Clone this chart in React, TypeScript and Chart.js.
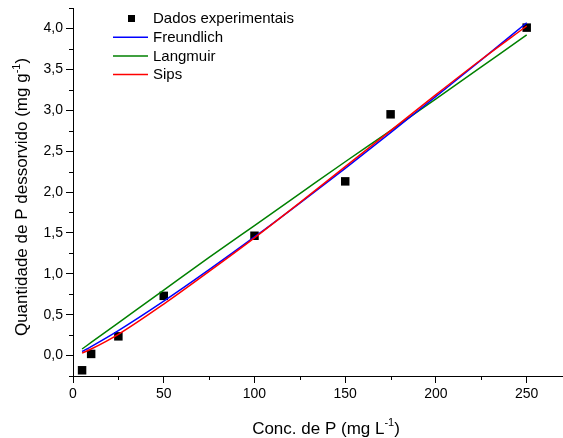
import React, { useEffect, useRef } from "react";
import { Chart, registerables } from "chart.js";
Chart.register(...registerables);

// Experimental data
const expC = [5, 10, 25, 50, 100, 150, 175, 250];
const expQ = [-0.18, 0.02, 0.235, 0.73, 1.465, 2.13, 2.95, 4.01];

// Fitted model curves
const curveC = [5, 10, 25, 50, 75, 100, 125, 150, 175, 200, 225, 250];
const freundlichQ = [0.05, 0.11, 0.305, 0.665, 1.05, 1.45, 1.865, 2.29, 2.725, 3.17, 3.615, 4.07];
const langmuirQ = [0.08, 0.16, 0.4, 0.8, 1.2, 1.59, 1.98, 2.37, 2.75, 3.14, 3.53, 3.92];
const sipsQ = [0.03, 0.08, 0.26, 0.63, 1.03, 1.44, 1.87, 2.31, 2.75, 3.19, 3.62, 4.03];

const seriesLabels = ["Dados experimentais", "Freundlich", "Langmuir", "Sips"];

// Axis titles: [main text, superscript, closing]
const xTitleParts = ["Conc. de P (mg L", "-1", ")"];
const yTitleParts = ["Quantidade de P dessorvido (mg g", "-1", ")"];

// Axis ticks
const xTicks = [0, 50, 100, 150, 200, 250];
const xMinorTicks = [25, 75, 125, 175, 225];
const yTicks = [0, 0.5, 1, 1.5, 2, 2.5, 3, 3.5, 4];
const yMinorTicks = [-0.25, 0.25, 0.75, 1.25, 1.75, 2.25, 2.75, 3.25, 3.75, 4.25];

const FONT = "'Liberation Sans', Arial, sans-serif";

function drawSupText(ctx: CanvasRenderingContext2D, parts: string[], size: number) {
  const main = `${size}px ${FONT}`;
  const sup = `${Math.round(size * 0.62)}px ${FONT}`;
  ctx.font = main;
  const w0 = ctx.measureText(parts[0]).width;
  const w2 = ctx.measureText(parts[2]).width;
  ctx.font = sup;
  const w1 = ctx.measureText(parts[1]).width;
  const total = w0 + w1 + w2;
  let x = -total / 2;
  ctx.textAlign = "left";
  ctx.textBaseline = "alphabetic";
  ctx.font = main;
  ctx.fillText(parts[0], x, 0);
  x += w0;
  ctx.font = sup;
  ctx.fillText(parts[1], x, -size * 0.42);
  x += w1;
  ctx.font = main;
  ctx.fillText(parts[2], x, 0);
}

const decorPlugin = {
  id: "decor",
  afterLayout(chart: any) {
    // let the plot area run to the right edge of the canvas, as in the original
    const xs = chart.scales.x;
    const target = chart.width;
    if (chart.chartArea.right !== target) {
      chart.chartArea.right = target;
      chart.chartArea.width = target - chart.chartArea.left;
      xs.right = target;
      xs.width = target - xs.left;
      xs.configure();
    }
  },
  afterDraw(chart: any) {
    const ctx = chart.ctx as CanvasRenderingContext2D;
    const xs = chart.scales.x;
    const ys = chart.scales.y;
    const area = chart.chartArea;
    ctx.save();
    ctx.strokeStyle = "#000";
    ctx.lineWidth = 1;
    ctx.beginPath();
    for (const v of xMinorTicks) {
      const px = Math.round(xs.getPixelForValue(v)) + 0.5;
      ctx.moveTo(px, area.bottom);
      ctx.lineTo(px, area.bottom + 4);
    }
    for (const v of yMinorTicks) {
      const py = Math.round(ys.getPixelForValue(v)) + 0.5;
      ctx.moveTo(area.left, py);
      ctx.lineTo(area.left - 4, py);
    }
    ctx.stroke();

    ctx.fillStyle = "#000";
    ctx.save();
    ctx.translate(area.left + 253, 433.5);
    drawSupText(ctx, xTitleParts, 17);
    ctx.restore();
    ctx.save();
    ctx.translate(27, area.top + 189);
    ctx.rotate(-Math.PI / 2);
    drawSupText(ctx, yTitleParts, 17);
    ctx.restore();

    const ds = chart.data.datasets;
    const baseX = area.left;
    const baseY = area.top;
    const rowH = 18.7;
    ctx.font = `15px ${FONT}`;
    ctx.textBaseline = "middle";
    ctx.textAlign = "left";
    ds.forEach((d: any, i: number) => {
      const cy = baseY + 10.5 + i * rowH;
      if (i === 0) {
        ctx.fillStyle = "#000";
        ctx.fillRect(baseX + 55, cy - 3.5, 7, 7);
      } else {
        ctx.strokeStyle = d.borderColor;
        ctx.lineWidth = 1.5;
        ctx.beginPath();
        ctx.moveTo(baseX + 40, cy);
        ctx.lineTo(baseX + 75, cy);
        ctx.stroke();
      }
      ctx.fillStyle = "#000";
      ctx.fillText(d.label, baseX + 80, cy + 0.5);
    });
    ctx.restore();
  },
};

export default function App() {
  const ref = useRef<HTMLCanvasElement>(null);
  useEffect(() => {
    if (!ref.current) return;
    const toXY = (xs: number[], ys: number[]) => xs.map((x, i) => ({ x, y: ys[i] }));
    const lineDs = (label: string, data: number[], color: string, order: number) => ({
      type: "line" as const,
      label,
      data: toXY(curveC, data),
      borderColor: color,
      backgroundColor: color,
      borderWidth: 1.5,
      pointRadius: 0,
      showLine: true,
      fill: false,
      cubicInterpolationMode: "monotone" as const,
      order,
    });
    const chart = new Chart(ref.current, {
      type: "scatter",
      data: {
        datasets: [
          {
            label: seriesLabels[0],
            data: toXY(expC, expQ),
            pointStyle: "rect",
            pointRadius: 6,
            pointBackgroundColor: "#000",
            pointBorderWidth: 0,
            backgroundColor: "#000",
            borderColor: "#000",
            showLine: false,
            order: 4,
          } as any,
          lineDs(seriesLabels[1], freundlichQ, "#0000ff", 2),
          lineDs(seriesLabels[2], langmuirQ, "#008000", 3),
          lineDs(seriesLabels[3], sipsQ, "#ff0000", 1),
        ],
      },
      options: {
        animation: false,
        responsive: false,
        layout: { padding: { top: 8, right: 0, left: 0, bottom: 0 } },
        plugins: { legend: { display: false }, tooltip: { enabled: false } },
        scales: {
          x: {
            type: "linear",
            min: 0,
            max: 270,
            afterBuildTicks: (s: any) => {
              s.ticks = xTicks.map((v) => ({ value: v }));
            },
            afterFit: (s: any) => {
              s.height = 62;
              s.paddingLeft = 0;
              s.paddingRight = 0;
            },
            grid: { display: true, drawOnChartArea: false, drawTicks: true, tickLength: 7, color: "#000" },
            border: { display: true, color: "#000", width: 1 },
            ticks: {
              color: "#000",
              padding: 3,
              maxRotation: 0,
              font: { family: FONT, size: 14 },
              callback: (v: any) => String(v),
            },
            title: { display: false, text: xTitleParts.join("") },
          },
          y: {
            type: "linear",
            min: -0.25,
            max: 4.25,
            afterBuildTicks: (s: any) => {
              s.ticks = yTicks.map((v) => ({ value: v }));
            },
            afterFit: (s: any) => {
              s.width = 73;
              s.paddingTop = 0;
              s.paddingBottom = 0;
            },
            grid: { display: true, drawOnChartArea: false, drawTicks: true, tickLength: 7, color: "#000" },
            border: { display: true, color: "#000", width: 1 },
            ticks: {
              color: "#000",
              padding: 3,
              font: { family: FONT, size: 14 },
              callback: (v: any) => Number(v).toFixed(1).replace(".", ","),
            },
            title: { display: false, text: yTitleParts.join("") },
          },
        },
      },
      plugins: [decorPlugin],
    });
    return () => chart.destroy();
  }, []);
  return (
    <div style={{ position: "absolute", left: 0, top: 0, width: 563, height: 438, background: "#fff" }}>
      <canvas ref={ref} width={563} height={438} />
    </div>
  );
}
